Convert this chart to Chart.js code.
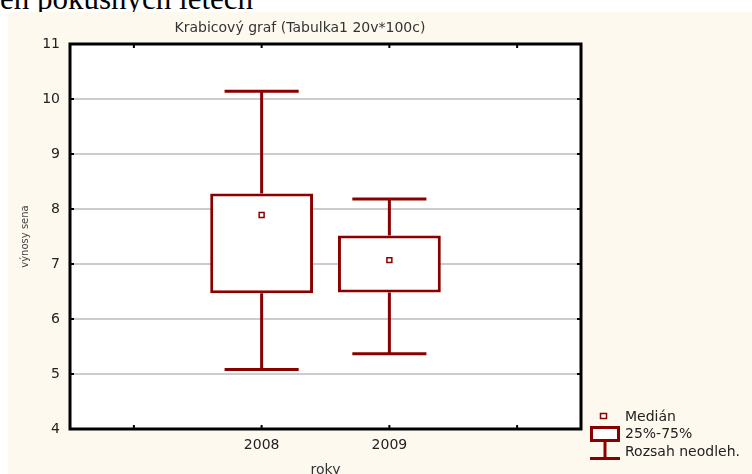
<!DOCTYPE html>
<html lang="cs">

<head>
    <meta charset="UTF-8">
    <title>Krabicový graf</title>
    <script src="https://cdn.jsdelivr.net/npm/chart.js@4/dist/chart.umd.min.js"></script>
    <style>
        body { margin: 0; background: #fff; width: 752px; height: 474px; overflow: hidden; position: relative; }
        #caption { position: absolute; left: 0; top: -17px; font: 31px/31px "Liberation Serif", serif; color: #000; white-space: nowrap; }
        #panel { position: absolute; left: 8px; top: 12px; right: 0; bottom: 0; background: #fdf9ee; }
        #myChart { position: absolute; left: 0; top: 0; }
    </style>
</head>

<body>
    <div id="caption">en pokusných letech</div>
    <div id="panel"></div>
    <canvas id="myChart" width="752" height="474"></canvas>

    <script>
        // values
        const years = ['2008', '2009'];
        const minVals = [5.08, 5.37];
        const q1Vals = [6.47, 6.48];
        const medianVals = [7.89, 7.07];
        const q3Vals = [8.28, 7.52];
        const maxVals = [10.14, 8.18];
        const yTicks = [4, 5, 6, 7, 8, 9, 10, 11];
        const legendLabels = ['Medián', '25%-75%', 'Rozsah neodleh.'];

        const red = '#8a0000';
        const capHalf = 0.29;

        // blank slots left and right of the two years
        const labels = ['', ...years, ''];
        const boxData = [null, ...years.map((y, i) => [q1Vals[i], q3Vals[i]]), null];
        const medianData = [null, ...medianVals, null];

        const boxExtras = {
            id: 'boxExtras',
            beforeDraw(chart) {
                const a = chart.chartArea;
                const ctx = chart.ctx;
                ctx.save();
                ctx.fillStyle = '#fff';
                ctx.fillRect(a.left, a.top, a.right - a.left, a.bottom - a.top);
                ctx.restore();
            },
            beforeDatasetsDraw(chart) {
                const ctx = chart.ctx;
                const x = chart.scales.x, y = chart.scales.y;
                ctx.save();
                ctx.strokeStyle = red;
                ctx.lineWidth = 3;
                years.forEach((yr, k) => {
                    const i = k + 1;
                    const cx = x.getPixelForValue(i);
                    const l = x.getPixelForValue(i - capHalf), r = x.getPixelForValue(i + capHalf);
                    ctx.beginPath();
                    ctx.moveTo(cx, y.getPixelForValue(q3Vals[k]));
                    ctx.lineTo(cx, y.getPixelForValue(maxVals[k]));
                    ctx.moveTo(cx, y.getPixelForValue(q1Vals[k]));
                    ctx.lineTo(cx, y.getPixelForValue(minVals[k]));
                    ctx.moveTo(l, y.getPixelForValue(maxVals[k]));
                    ctx.lineTo(r, y.getPixelForValue(maxVals[k]));
                    ctx.moveTo(l, y.getPixelForValue(minVals[k]));
                    ctx.lineTo(r, y.getPixelForValue(minVals[k]));
                    ctx.stroke();
                });
                ctx.restore();
            },
            afterDraw(chart) {
                const ctx = chart.ctx;
                const a = chart.chartArea;
                const x = chart.scales.x, y = chart.scales.y;
                ctx.save();
                // frame
                ctx.strokeStyle = '#000';
                ctx.lineWidth = 3;
                ctx.strokeRect(a.left, a.top, a.right - a.left, a.bottom - a.top);
                // small inward tick marks
                ctx.lineWidth = 2;
                ctx.beginPath();
                labels.forEach((lb, i) => {
                    const px = x.getPixelForValue(i);
                    ctx.moveTo(px, a.top); ctx.lineTo(px, a.top + 4);
                    ctx.moveTo(px, a.bottom); ctx.lineTo(px, a.bottom - 4);
                });
                yTicks.forEach(v => {
                    const py = y.getPixelForValue(v);
                    ctx.moveTo(a.left, py); ctx.lineTo(a.left + 4, py);
                    ctx.moveTo(a.right, py); ctx.lineTo(a.right - 4, py);
                });
                ctx.stroke();

                // legend
                ctx.strokeStyle = red;
                ctx.fillStyle = '#fff';
                ctx.lineWidth = 1.5;
                ctx.fillRect(600.5, 413.5, 6, 5);
                ctx.strokeRect(600.5, 413.5, 6, 5);
                ctx.lineWidth = 3;
                ctx.fillRect(591.5, 427.5, 27, 13);
                ctx.strokeRect(591.5, 427.5, 27, 13);
                ctx.beginPath();
                ctx.moveTo(605, 441); ctx.lineTo(605, 458);
                ctx.moveTo(590, 458.5); ctx.lineTo(620, 458.5);
                ctx.stroke();
                ctx.fillStyle = '#222';
                ctx.font = '14px "DejaVu Sans"';
                ctx.textBaseline = 'middle';
                ctx.textAlign = 'left';
                legendLabels.forEach((t, i) => ctx.fillText(t, 625, 417 + i * 17.5));
                ctx.restore();
            }
        };

        const ctx = document.getElementById('myChart').getContext('2d');
        const boxChart = new Chart(ctx, {
            type: 'bar',
            data: {
                labels: labels,
                datasets: [
                    {
                        type: 'line',
                        label: 'Medián',
                        data: medianData,
                        showLine: false,
                        pointStyle: 'rect',
                        pointRadius: 3.5,
                        borderColor: red,
                        backgroundColor: '#fff',
                        borderWidth: 1.5,
                        order: 0
                    },
                    {
                        label: '25%-75%',
                        data: boxData,
                        backgroundColor: '#fff',
                        borderColor: red,
                        borderWidth: 3,
                        borderSkipped: false,
                        categoryPercentage: 1,
                        barPercentage: 0.805,
                        order: 1
                    }
                ]
            },
            options: {
                responsive: false,
                animation: false,
                devicePixelRatio: 1,
                layout: { padding: { left: 19, right: 171, top: 0, bottom: 0 } },
                plugins: {
                    legend: { display: false },
                    tooltip: { enabled: false },
                    title: {
                        display: true,
                        text: 'Krabicový graf (Tabulka1 20v*100c)',
                        color: '#333',
                        font: { family: 'DejaVu Sans', size: 14, weight: 'normal', lineHeight: 1.2 },
                        padding: { top: 19.6, bottom: 7.6 }
                    }
                },
                scales: {
                    x: {
                        offset: true,
                        grid: { display: false, drawTicks: false },
                        border: { display: false },
                        ticks: { color: '#222', font: { family: 'DejaVu Sans', size: 14 }, padding: 8, maxRotation: 0 },
                        title: {
                            display: true,
                            text: 'roky',
                            color: '#333',
                            font: { family: 'DejaVu Sans', size: 14, lineHeight: 1.2 },
                            padding: { top: 0, bottom: -5 }
                        },
                        afterFit(scale) { scale.height = 45; }
                    },
                    y: {
                        min: 4,
                        max: 11,
                        afterBuildTicks(scale) { scale.ticks = yTicks.map(v => ({ value: v })); },
                        grid: { color: '#cccccc', lineWidth: 2, drawTicks: false },
                        border: { display: false },
                        ticks: { color: '#222', font: { family: 'DejaVu Sans', size: 14 }, padding: 10 },
                        title: {
                            display: true,
                            text: 'výnosy sena',
                            color: '#444',
                            font: { family: 'DejaVu Sans', size: 10, lineHeight: 1.2 },
                            padding: { top: 0, bottom: 0 }
                        },
                        afterFit(scale) { scale.width = 51; }
                    }
                }
            },
            plugins: [boxExtras]
        });
    </script>
</body>

</html>
